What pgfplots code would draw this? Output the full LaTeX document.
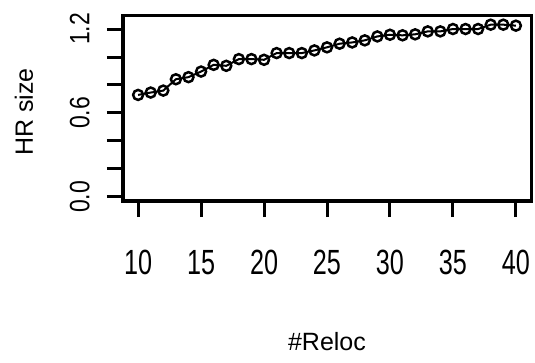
\documentclass[border=0pt]{standalone}
\usepackage{pgfplots}
\pgfplotsset{compat=1.18}
\usepackage{fontspec}
\setmainfont{Liberation Sans}
\newfontfamily\xtickfont{Liberation Sans}[FakeStretch=0.72]
\newfontfamily\ytickfont{Liberation Sans}[FakeStretch=0.82]
\begin{document}
\begin{tikzpicture}
\path[use as bounding box] (0,0) rectangle (535bp,363bp);
\begin{axis}[
  at={(123bp,162bp)}, anchor=south west,
  scale only axis, width=408bp, height=185bp,
  xmin=8.8, xmax=41.2, ymin=-0.029, ymax=1.293,
  axis line style={line width=3bp},
  tick style={line width=3bp, black},
  major tick length=16bp,
  tick align=outside,
  xtick pos=lower, ytick pos=left,
  xtick={10,15,20,25,30,35,40},
  xticklabels={10,15,20,25,30,35,40},
  ytick={0,0.2,0.4,0.6,0.8,1.0,1.2},
  yticklabels={0.0,,,0.6,,,1.2},
  xticklabel style={font=\xtickfont\fontsize{35bp}{40bp}\selectfont, anchor=center, yshift=-49bp},
  yticklabel style={font=\ytickfont\fontsize{28bp}{32bp}\selectfont, rotate=90, anchor=center, yshift=24bp},
  typeset ticklabels with strut=false,
  xlabel={\#Reloc}, ylabel={HR size},
  every axis x label/.style={at={(axis description cs:0.5,-0.762)}, anchor=center, font=\fontsize{25bp}{30bp}\selectfont},
  every axis y label/.style={at={(axis description cs:-0.243,0.481)}, anchor=center, rotate=90, font=\fontsize{25bp}{30bp}\selectfont},
  clip=false,
]
\addplot[black, line width=2bp, mark=o, mark size=5bp, mark options={line width=2.5bp, fill=white}] coordinates {
(10,0.729) (11,0.746) (12,0.760) (13,0.841) (14,0.856) (15,0.896) (16,0.944) (17,0.937)
(18,0.985) (19,0.985) (20,0.980) (21,1.028) (22,1.028) (23,1.028) (24,1.047) (25,1.069)
(26,1.095) (27,1.104) (28,1.119) (29,1.147) (30,1.159) (31,1.155) (32,1.162) (33,1.183)
(34,1.183) (35,1.200) (36,1.200) (37,1.200) (38,1.231) (39,1.231) (40,1.224)
};
\end{axis}
\end{tikzpicture}
\end{document}
